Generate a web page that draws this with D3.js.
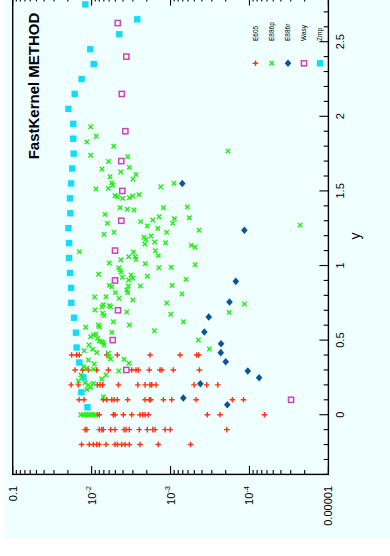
<!DOCTYPE html>
<html>
<head>
<meta charset="utf-8">
<script src="https://cdn.jsdelivr.net/npm/d3@7"></script>
<style>
  html, body { margin: 0; padding: 0; background: #ffffff; }
  svg { display: block; font-family: "Liberation Sans", Arial, Helvetica, sans-serif; }
</style>
</head>
<body>
<svg id="chart" width="390" height="556"></svg>
<script>
// Kinematic coverage of the fitted data sets: momentum fraction x (log) against rapidity y.

const seriesNames = ["E605", "E886p", "E886r", "Wasy", "Zmp"];

// E605 : [x, y]
const e605 = [
  [1.79e-2,0.4],[1.55e-2,0.4],[1.43e-2,0.4],[6.44e-3,0.4],[4.72e-3,0.4],[1.82e-3,0.4],[7.58e-4,0.4],[4.66e-4,0.4],[4.39e-4,0.4],
  [1.62e-2,0.3],[1.30e-2,0.3],[1.10e-2,0.3],[8.62e-3,0.3],[6.14e-3,0.3],[3.10e-3,0.3],[2.74e-3,0.3],[2.56e-3,0.3],[1.86e-3,0.3],[1.36e-3,0.3],[1.29e-3,0.3],[9.22e-4,0.3],[4.31e-4,0.3],
  [1.82e-2,0.2],[1.47e-2,0.2],[8.47e-3,0.2],[7.83e-3,0.2],[7.23e-3,0.2],[4.59e-3,0.2],[2.60e-3,0.2],[2.10e-3,0.2],[1.82e-3,0.2],[1.73e-3,0.2],[1.53e-3,0.2],[5.04e-4,0.2],[3.48e-4,0.2],[2.52e-4,0.2],
  [1.44e-2,0.1],[1.25e-2,0.1],[7.11e-3,0.1],[6.44e-3,0.1],[5.56e-3,0.1],[5.20e-3,0.1],[4.72e-3,0.1],[3.49e-3,0.1],[2.10e-3,0.1],[1.86e-3,0.1],[1.78e-3,0.1],[1.23e-3,0.1],[9.66e-4,0.1],[4.75e-4,0.1],[1.65e-4,0.1],[1.19e-4,0.1],
  [8.47e-3,0.0],[7.99e-3,0.0],[5.31e-3,0.0],[5.05e-3,0.0],[3.96e-3,0.0],[3.10e-3,0.0],[2.44e-3,0.0],[2.25e-3,0.0],[2.10e-3,0.0],[1.91e-3,0.0],[3.42e-4,0.0],[2.36e-4,0.0],[6.47e-5,0.0],
  [1.21e-2,-0.1],[1.15e-2,-0.1],[7.99e-3,-0.1],[7.45e-3,-0.1],[7.11e-3,-0.1],[5.73e-3,-0.1],[5.05e-3,-0.1],[3.88e-3,-0.1],[3.66e-3,-0.1],[3.33e-3,-0.1],[2.49e-3,-0.1],[1.97e-3,-0.1],[1.68e-3,-0.1],[1.57e-3,-0.1],[1.17e-3,-0.1],[1.01e-3,-0.1],[1.94e-4,-0.1],
  [1.34e-2,-0.2],[1.07e-2,-0.2],[9.52e-3,-0.2],[8.62e-3,-0.2],[7.99e-3,-0.2],[6.57e-3,-0.2],[5.05e-3,-0.2],[4.70e-3,-0.2],[4.15e-3,-0.2],[3.77e-3,-0.2],[3.33e-3,-0.2],[2.44e-3,-0.2],[1.43e-3,-0.2],[5.58e-4,-0.2]
];

// E886p : [x, y]
const e886p = [
  [1.03e-2,1.93],[8.74e-3,1.866],[1.15e-2,1.828],[5.25e-3,1.799],[1.03e-2,1.739],[3.49e-3,1.729],[6.12e-3,1.697],[7.40e-3,1.647],
  [4.28e-3,1.627],[3.33e-3,1.658],[2.74e-3,1.609],[5.85e-3,1.595],[2.99e-3,1.58],[5.56e-3,1.554],[5.41e-3,1.538],[8.81e-3,1.513],
  [6.15e-3,1.517],[1.33e-3,1.528],[9.04e-4,1.551],[5.05e-3,1.468],[4.72e-3,1.461],[4.04e-3,1.45],[3.33e-3,1.454],[3.01e-3,1.466],
  [2.51e-3,1.475],[4.37e-3,1.387],[3.53e-3,1.377],[2.90e-3,1.372],[1.23e-3,1.387],[6.13e-4,1.392],[6.77e-3,1.343],[1.40e-3,1.327],
  [1.68e-3,1.305],[8.95e-4,1.314],[5.78e-4,1.32],[6.32e-3,1.283],[2.39e-3,1.294],[9.39e-4,1.283],[1.97e-3,1.265],[1.45e-3,1.249],
  [6.97e-3,1.209],[5.20e-3,1.223],[1.12e-3,1.223],[4.36e-4,1.236],[1.77e-3,1.198],[2.17e-3,1.189],[2.06e-3,1.176],[1.59e-3,1.158],
  [1.16e-3,1.153],[2.12e-3,1.144],[5.45e-4,1.135],[4.89e-4,1.122],[1.43e-2,1.093],[2.96e-3,1.09],[1.56e-3,1.099],[1.43e-3,1.066],
  [3.39e-3,1.059],[2.80e-3,1.059],[2.74e-3,1.042],[4.28e-3,1.039],[5.97e-3,1.017],[2.09e-3,1.012],[1.41e-3,0.985],[9.83e-4,0.988],
  [4.89e-4,1.005],[4.54e-3,0.985],[4.37e-3,0.97],[4.24e-3,0.956],[8.15e-3,0.941],[4.08e-3,0.921],[3.17e-3,0.936],[3.01e-3,0.914],
  [3.39e-3,0.903],[1.97e-3,0.928],[6.36e-4,0.907],[5.97e-3,0.867],[5.56e-3,0.858],[3.43e-3,0.863],[2.41e-3,0.863],[9.55e-4,0.867],
  [3.59e-3,0.836],[3.49e-3,0.818],[5.00e-3,0.818],[6.57e-3,0.791],[9.15e-3,0.789],[4.49e-3,0.78],[3.01e-3,0.769],[7.16e-4,0.809],
  [1.12e-3,0.749],[7.11e-3,0.737],[5.97e-3,0.731],[7.40e-3,0.724],[5.74e-3,0.722],[9.06e-3,0.702],[7.25e-3,0.68],[6.97e-3,0.664],
  [3.59e-3,0.688],[9.94e-4,0.673],[1.19e-2,0.586],[8.22e-3,0.601],[7.99e-3,0.59],[5.31e-3,0.623],[3.33e-3,0.601],[6.87e-4,0.623],
  [1.60e-3,0.563],[5.56e-3,0.552],[1.03e-2,0.523],[9.52e-3,0.534],[8.81e-3,0.539],[8.39e-3,0.512],[7.99e-3,0.494],[7.45e-3,0.489],
  [7.11e-3,0.483],[4.44e-4,0.501],[1.08e-2,0.467],[9.70e-3,0.438],[1.24e-2,0.429],[8.62e-3,0.416],[6.97e-3,0.467],[6.15e-3,0.412],
  [5.97e-3,0.389],[5.74e-3,0.373],[1.81e-4,0.686],[3.22e-4,0.44],[1.10e-2,0.367],[9.26e-3,0.34],[3.88e-3,0.371],[3.36e-3,0.345],
  [1.27e-2,0.322],[1.15e-2,0.311],[9.52e-3,0.304],[4.54e-3,0.293],[1.37e-2,0.266],[7.45e-3,0.239],[6.57e-3,0.266],[1.47e-2,0.226],
  [1.21e-2,0.214],[1.10e-2,0.199],[1.03e-2,0.184],[1.15e-2,0.17],[9.52e-3,0.21],[7.11e-3,0.121],
  [1.37e-2,0.0],[1.27e-2,0.0],[1.18e-2,0.0],[1.10e-2,0.0],[1.03e-2,0.0],[9.52e-3,0.0],[8.98e-3,0.0],
  [2.28e-5,1.271],[1.16e-4,0.742],[1.87e-4,1.767]
];

// E886r : [x, y]
const e886r = [
  [7.10e-4,1.55],[1.16e-4,1.236],[1.49e-4,0.894],[1.79e-4,0.755],[3.28e-4,0.655],[3.73e-4,0.554],[2.29e-4,0.476],
  [2.31e-4,0.416],[2.00e-4,0.355],[1.05e-4,0.293],[7.55e-5,0.248],[4.19e-4,0.208],[6.89e-4,0.112],[1.91e-4,0.067]
];

// Wasy : [x, y]
const wasy = [
  [2.97e-5,0.1],[3.63e-3,0.3],[5.40e-3,0.5],[4.63e-3,0.7],[5.05e-3,0.9],[5.05e-3,1.1],[4.21e-3,1.3],
  [4.08e-3,1.5],[4.21e-3,1.7],[3.74e-3,1.9],[4.15e-3,2.15],[3.63e-3,2.4],[4.67e-3,2.625]
];

// Zmp : [x, y]
const zmp = [
  [1.20e-2,2.75],[2.64e-3,2.65],[4.46e-3,2.55],[1.04e-2,2.45],[9.40e-3,2.35],[1.34e-2,2.25],[1.64e-2,2.15],
  [1.97e-2,2.05],[1.71e-2,1.95],[1.71e-2,1.85],[1.69e-2,1.75],[1.76e-2,1.65],[1.82e-2,1.55],[1.88e-2,1.45],
  [1.86e-2,1.35],[1.97e-2,1.25],[1.93e-2,1.15],[1.93e-2,1.05],[1.88e-2,0.95],[1.82e-2,0.85],[1.81e-2,0.75],
  [1.67e-2,0.65],[1.58e-2,0.55],[1.55e-2,0.45],[1.43e-2,0.35],[1.27e-2,0.25],[1.35e-2,0.15],[1.13e-2,0.05]
];

const xTickValues = [1e-1, 1e-2, 1e-3, 1e-4, 1e-5];
const xTickLabels = [["0.1", ""], ["10", "-2"], ["10", "-3"], ["10", "-4"], ["0.00001", ""]];
const yTickValues = [0, 0.5, 1, 1.5, 2, 2.5];
const yTickLabels = ["0", "0.5", "1", "1.5", "2", "2.5"];

const svg = d3.select("#chart");

// page background
svg.append("rect").attr("x", 4).attr("y", 0).attr("width", 386).attr("height", 539).attr("fill", "#f0ffff");

const frameLeft = 12.7, frameRight = 328.4, frameTop = -3.06, frameBottom = 474.4;

const x = d3.scaleLog().domain([1e-1, 1e-5]).range([frameLeft, frameRight]);
const y = d3.scaleLinear().domain([-0.4, 2.8]).range([frameBottom, frameTop]);

// frame
svg.append("rect")
  .attr("x", frameLeft).attr("y", frameTop)
  .attr("width", frameRight - frameLeft).attr("height", frameBottom - frameTop)
  .attr("fill", "none").attr("stroke", "#000").attr("stroke-width", 1.4);

const tickG = svg.append("g").attr("stroke", "#000").attr("stroke-width", 1.1);

// log ticks, drawn inwards on bottom and top edges
x.ticks().forEach(v => {
  const isMajor = Math.abs(Math.log10(v) - Math.round(Math.log10(v))) < 1e-9;
  const len = isMajor ? 8.5 : 4.5;
  const px = x(v);
  tickG.append("line").attr("x1", px).attr("x2", px).attr("y1", frameBottom).attr("y2", frameBottom - len);
  tickG.append("line").attr("x1", px).attr("x2", px).attr("y1", frameTop).attr("y2", frameTop + len);
});

// rapidity ticks, drawn inwards on the right edge
d3.range(-4, 29).map(i => i / 10).forEach(v => {
  const isMajor = Math.abs(v * 2 - Math.round(v * 2)) < 1e-9;
  const len = isMajor ? 9 : 4.7;
  tickG.append("line").attr("x1", frameRight).attr("x2", frameRight - len).attr("y1", y(v)).attr("y2", y(v));
});

// bottom tick labels, rotated
xTickValues.forEach((v, i) => {
  const t = svg.append("text")
    .attr("transform", `translate(${x(v) + 4},486) rotate(-90)`)
    .attr("text-anchor", "end")
    .attr("font-size", 11)
    .attr("fill", "#000");
  t.append("tspan").text(xTickLabels[i][0]);
  if (xTickLabels[i][1]) {
    t.append("tspan").attr("font-size", 7.5).attr("dy", -4.5).text(xTickLabels[i][1]);
  }
});

// right tick labels, rotated
yTickValues.forEach((v, i) => {
  svg.append("text")
    .attr("transform", `translate(344,${y(v)}) rotate(-90)`)
    .attr("text-anchor", "middle")
    .attr("font-size", 11)
    .attr("fill", "#000")
    .text(yTickLabels[i]);
});

// axis title
svg.append("text")
  .attr("transform", `translate(360,236) rotate(-90)`)
  .attr("text-anchor", "middle")
  .attr("font-size", 14)
  .text("y");

// chart title
svg.append("text")
  .attr("transform", `translate(38.5,86) rotate(-90)`)
  .attr("text-anchor", "middle")
  .attr("font-size", 15)
  .attr("font-weight", "bold")
  .text("FastKernel METHOD");

// marker painters
const styles = {
  E605:  { color: "#ff3311" },
  E886p: { color: "#22ee11" },
  E886r: { color: "#0b5597" },
  Wasy:  { color: "#cc44bb" },
  Zmp:   { color: "#11ddf8" }
};

function drawPlus(g, cx, cy) {
  g.append("path")
    .attr("d", `M${cx - 2.8},${cy}H${cx + 2.8}M${cx},${cy - 2.8}V${cy + 2.8}`)
    .attr("stroke", styles.E605.color).attr("stroke-width", 1.4).attr("fill", "none");
}
function drawCross(g, cx, cy) {
  const r = 2.2;
  g.append("path")
    .attr("d", `M${cx - r},${cy - r}L${cx + r},${cy + r}M${cx - r},${cy + r}L${cx + r},${cy - r}`)
    .attr("stroke", styles.E886p.color).attr("stroke-width", 1.4).attr("fill", "none");
}
function drawDiamond(g, cx, cy) {
  g.append("path")
    .attr("d", `M${cx},${cy - 3.8}L${cx + 3.3},${cy}L${cx},${cy + 3.8}L${cx - 3.3},${cy}Z`)
    .attr("fill", styles.E886r.color);
}
function drawOpenSquare(g, cx, cy) {
  g.append("rect").attr("x", cx - 2.6).attr("y", cy - 2.6).attr("width", 5.2).attr("height", 5.2)
    .attr("fill", "none").attr("stroke", styles.Wasy.color).attr("stroke-width", 1.5);
}
function drawSquare(g, cx, cy) {
  g.append("rect").attr("x", cx - 3.2).attr("y", cy - 3.2).attr("width", 6.4).attr("height", 6.4)
    .attr("fill", styles.Zmp.color);
}

const painters = { E605: drawPlus, E886p: drawCross, E886r: drawDiamond, Wasy: drawOpenSquare, Zmp: drawSquare };
const seriesData = { E605: e605, E886p: e886p, E886r: e886r, Wasy: wasy, Zmp: zmp };

const plot = svg.append("g");
["Zmp", "E605", "E886p", "E886r", "Wasy"].forEach(name => {
  const g = plot.append("g");
  seriesData[name].forEach(d => painters[name](g, x(d[0]), y(d[1])));
});

// legend
const legendX = [255.5, 271.7, 288, 304, 320];
seriesNames.forEach((name, i) => {
  svg.append("text")
    .attr("transform", `translate(${legendX[i] + 2.3},41) rotate(-90)`)
    .attr("text-anchor", "start")
    .attr("font-size", 6.5)
    .attr("fill", "#000")
    .text(name);
  painters[name](svg, legendX[i], 63.3);
});
</script>
</body>
</html>
